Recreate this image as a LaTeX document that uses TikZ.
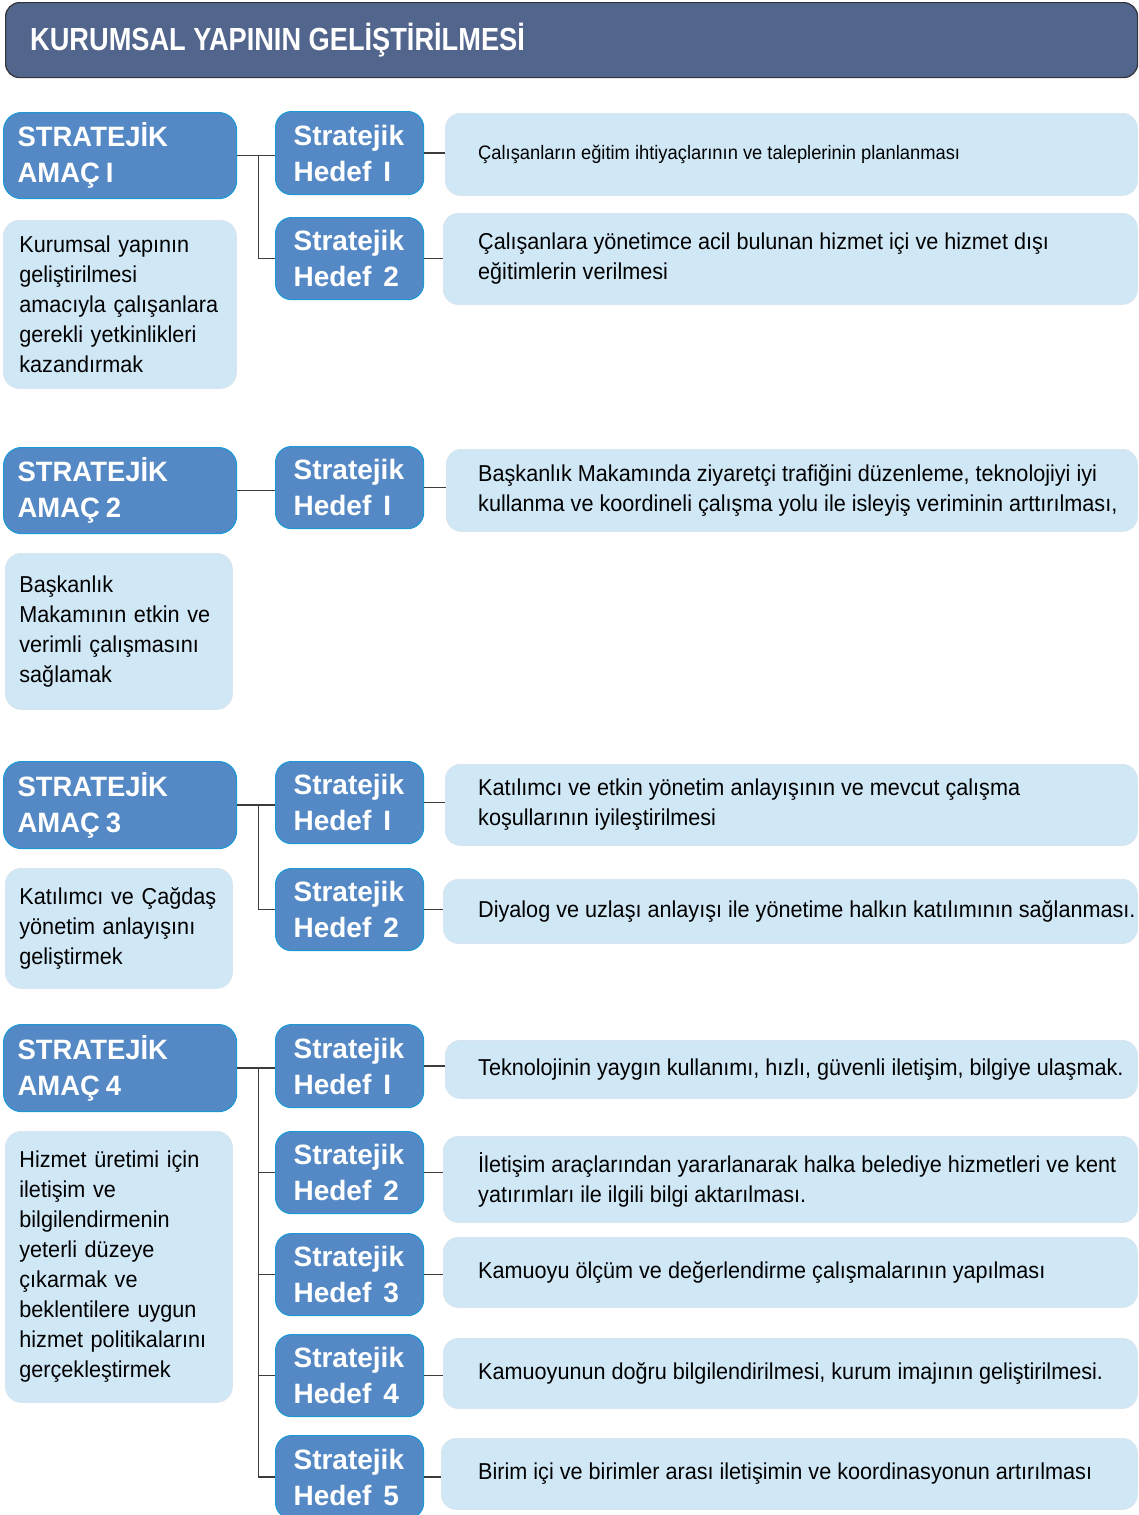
\documentclass[tikz,border=0pt]{standalone}
\usepackage{fontspec}
\setmainfont{Liberation Sans}[FakeStretch=0.94]
\newfontfamily\titlefont{Liberation Sans}[FakeStretch=0.85]
\newfontfamily\hedeffont{Liberation Sans}
\newfontfamily\amacfont{Liberation Sans}[FakeStretch=0.98]
\hyphenpenalty=10000
\exhyphenpenalty=10000
\definecolor{titlebg}{RGB}{82,101,140}
\definecolor{titleborder}{RGB}{50,50,55}
\definecolor{blueA}{RGB}{85,137,197}
\definecolor{blueB}{RGB}{30,152,212}
\definecolor{lightbox}{RGB}{208,231,246}
\definecolor{lightborder}{RGB}{216,229,239}
\definecolor{connc}{RGB}{60,60,60}
\tikzset{
  amacbox/.style={draw=blueB, line width=1.2pt, fill=blueA, rounded corners=18pt,
    anchor=north west, inner xsep=14pt, inner ysep=0pt, minimum width=233pt, text width=205pt,
    text=white, align=left, font=\amacfont\bfseries\fontsize{28}{36}\selectfont},
  hedefbox/.style={draw=blueB, line width=1.2pt, fill=blueA, rounded corners=16pt,
    anchor=north west, inner xsep=18pt, inner ysep=0pt, minimum width=148pt, text width=112pt,
    text=white, align=left, font=\hedeffont\bfseries\fontsize{28}{36}\selectfont},
  descbox/.style={draw=lightborder, line width=0.8pt, fill=lightbox, rounded corners=16pt,
    anchor=north west, inner ysep=0pt, align=left, font=\fontsize{23}{30}\selectfont},
  objbox/.style={draw=lightborder, line width=0.8pt, fill=lightbox, rounded corners=15pt,
    anchor=north west, inner sep=0pt},
  objtext/.style={anchor=west, inner sep=0pt, align=left, font=\fontsize{23}{30}\selectfont},
  conn/.style={draw=connc, line width=1.3pt},
}
\begin{document}
\begin{tikzpicture}[x=1pt,y=-1pt]
\useasboundingbox (0,0) rectangle (1138,1515);
\fill[white] (0,0) rectangle (1138,1515);

% title
\node[draw=titleborder, line width=1.2pt, fill=titlebg, rounded corners=14pt, anchor=north west,
  minimum width=1132pt, minimum height=75pt, inner sep=0pt] (title) at (5,2) {};
\node[anchor=west, inner sep=0pt, text=white, font=\titlefont\bfseries\fontsize{32}{36}\selectfont]
  (titletext) at (30,40) {KURUMSAL YAPININ GELİŞTİRİLMESİ};

% ---------- Section 1
\node[amacbox, minimum height=86pt] (a1) at (3,112) {STRATEJİK\\AMAÇ\hspace{6pt}I};
\node[descbox, minimum width=233pt, inner xsep=16pt, text width=201pt, minimum height=168pt] (d1) at (3,220)
  {Kurumsal yapının\\geliştirilmesi\\amacıyla çalışanlara\\gerekli yetkinlikleri\\kazandırmak\\[4pt]};
\node[hedefbox, minimum height=83pt] (h11) at (275,111) {Stratejik\\Hedef\hspace{12pt}I};
\node[hedefbox, minimum height=82pt] (h12) at (275,217) {Stratejik\\Hedef\hspace{12pt}2};
\node[objbox, minimum width=692pt, minimum height=82pt] (o11) at (445,113) {};
\node[objtext, font=\fontsize{19.5}{25}\selectfont] (t11) at ([xshift=33pt]o11.west)
  {Çalışanların eğitim ihtiyaçlarının ve taleplerinin planlanması};
\node[objbox, minimum width=694pt, minimum height=91pt] (o12) at (443,213) {};
\node[objtext] (t12) at ([xshift=35pt]o12.west)
  {Çalışanlara yönetimce acil bulunan hizmet içi ve hizmet dışı\\eğitimlerin verilmesi};
\coordinate (b1) at ([xshift=21pt]a1.east);
\draw[conn] (a1.east) -- (a1.east -| h11.west);
\draw[conn] (b1) |- (h12.west);
\draw[conn] (h11.east) -- (h11.east -| o11.west);
\draw[conn] (h12.east) -- (h12.east -| o12.west);

% ---------- Section 2
\node[amacbox, minimum height=86pt] (a2) at (3,447) {STRATEJİK\\AMAÇ\hspace{6pt}2};
\node[descbox, minimum width=227pt, inner xsep=14pt, text width=199pt, minimum height=156pt] (d2) at (5,553)
  {Başkanlık\\Makamının etkin ve\\verimli çalışmasını\\sağlamak};
\node[hedefbox, minimum height=82pt] (h21) at (275,446) {Stratejik\\Hedef\hspace{12pt}I};
\node[objbox, minimum width=691pt, minimum height=82pt] (o21) at (446,449) {};
\node[objtext] (t21) at ([xshift=32pt]o21.west)
  {Başkanlık Makamında ziyaretçi trafiğini düzenleme, teknolojiyi iyi\\kullanma ve koordineli çalışma yolu ile isleyiş veriminin arttırılması,};
\draw[conn] (a2.east) -- (a2.east -| h21.west);
\draw[conn] (h21.east) -- (h21.east -| o21.west);

% ---------- Section 3
\node[amacbox, minimum height=87pt] (a3) at (3,761) {STRATEJİK\\AMAÇ\hspace{6pt}3};
\node[descbox, minimum width=227pt, inner xsep=14pt, text width=199pt, minimum height=120pt] (d3) at (5,868)
  {Katılımcı ve Çağdaş\\yönetim anlayışını\\geliştirmek};
\node[hedefbox, minimum height=82pt] (h31) at (275,761) {Stratejik\\Hedef\hspace{12pt}I};
\node[hedefbox, minimum height=82pt] (h32) at (275,868) {Stratejik\\Hedef\hspace{12pt}2};
\node[objbox, minimum width=692pt, minimum height=81pt] (o31) at (445,764) {};
\node[objtext] (t31) at ([xshift=33pt]o31.west)
  {Katılımcı ve etkin yönetim anlayışının ve mevcut çalışma\\koşullarının iyileştirilmesi};
\node[objbox, minimum width=694pt, minimum height=64pt] (o32) at (443,879) {};
\node[objtext] (t32) at ([xshift=35pt]o32.west)
  {Diyalog ve uzlaşı anlayışı ile yönetime halkın katılımının sağlanması.};
\coordinate (b3) at ([xshift=21pt]a3.east);
\draw[conn] (a3.east) -- (a3.east -| h31.west);
\draw[conn] (b3) |- (h32.west);
\draw[conn] (h31.east) -- (h31.east -| o31.west);
\draw[conn] (h32.east) -- (h32.east -| o32.west);

% ---------- Section 4
\node[amacbox, minimum height=87pt] (a4) at (3,1024) {STRATEJİK\\AMAÇ\hspace{6pt}4};
\node[descbox, minimum width=227pt, inner xsep=14pt, text width=199pt, minimum height=271pt] (d4) at (5,1131)
  {Hizmet üretimi için\\iletişim ve\\bilgilendirmenin\\yeterli düzeye\\çıkarmak ve\\beklentilere uygun\\hizmet politikalarını\\gerçekleştirmek};
\node[hedefbox, minimum height=83pt] (h41) at (275,1024) {Stratejik\\Hedef\hspace{12pt}I};
\node[hedefbox, minimum height=82pt] (h42) at (275,1131) {Stratejik\\Hedef\hspace{12pt}2};
\node[hedefbox, minimum height=82pt] (h43) at (275,1233) {Stratejik\\Hedef\hspace{12pt}3};
\node[hedefbox, minimum height=82pt] (h44) at (275,1334) {Stratejik\\Hedef\hspace{12pt}4};
\node[hedefbox, minimum height=83pt] (h45) at (275,1435) {Stratejik\\Hedef\hspace{12pt}5};
\node[objbox, minimum width=692pt, minimum height=58pt] (o41) at (445,1040) {};
\node[objtext] (t41) at ([xshift=33pt]o41.west)
  {Teknolojinin yaygın kullanımı, hızlı, güvenli iletişim, bilgiye ulaşmak.};
\node[objbox, minimum width=694pt, minimum height=86pt] (o42) at (443,1136) {};
\node[objtext] (t42) at ([xshift=35pt]o42.west)
  {İletişim araçlarından yararlanarak halka belediye hizmetleri ve kent\\yatırımları ile ilgili bilgi aktarılması.};
\node[objbox, minimum width=694pt, minimum height=70pt] (o43) at (443,1237) {};
\node[objtext] (t43) at ([xshift=35pt]o43.west)
  {Kamuoyu ölçüm ve değerlendirme çalışmalarının yapılması};
\node[objbox, minimum width=694pt, minimum height=70pt] (o44) at (443,1338) {};
\node[objtext] (t44) at ([xshift=35pt]o44.west)
  {Kamuoyunun doğru bilgilendirilmesi, kurum imajının geliştirilmesi.};
\node[objbox, minimum width=696pt, minimum height=71pt] (o45) at (441,1438) {};
\node[objtext] (t45) at ([xshift=37pt]o45.west)
  {Birim içi ve birimler arası iletişimin ve koordinasyonun artırılması};
\coordinate (b4) at ([xshift=21pt]a4.east);
\draw[conn] (a4.east) -- (a4.east -| h41.west);
\draw[conn] (b4) |- (h42.west);
\draw[conn] (b4) |- (h43.west);
\draw[conn] (b4) |- (h44.west);
\draw[conn] (b4) |- (h45.west);
\draw[conn] (h41.east) -- (h41.east -| o41.west);
\draw[conn] (h42.east) -- (h42.east -| o42.west);
\draw[conn] (h43.east) -- (h43.east -| o43.west);
\draw[conn] (h44.east) -- (h44.east -| o44.west);
\draw[conn] (h45.east) -- (h45.east -| o45.west);
\end{tikzpicture}
\end{document}
